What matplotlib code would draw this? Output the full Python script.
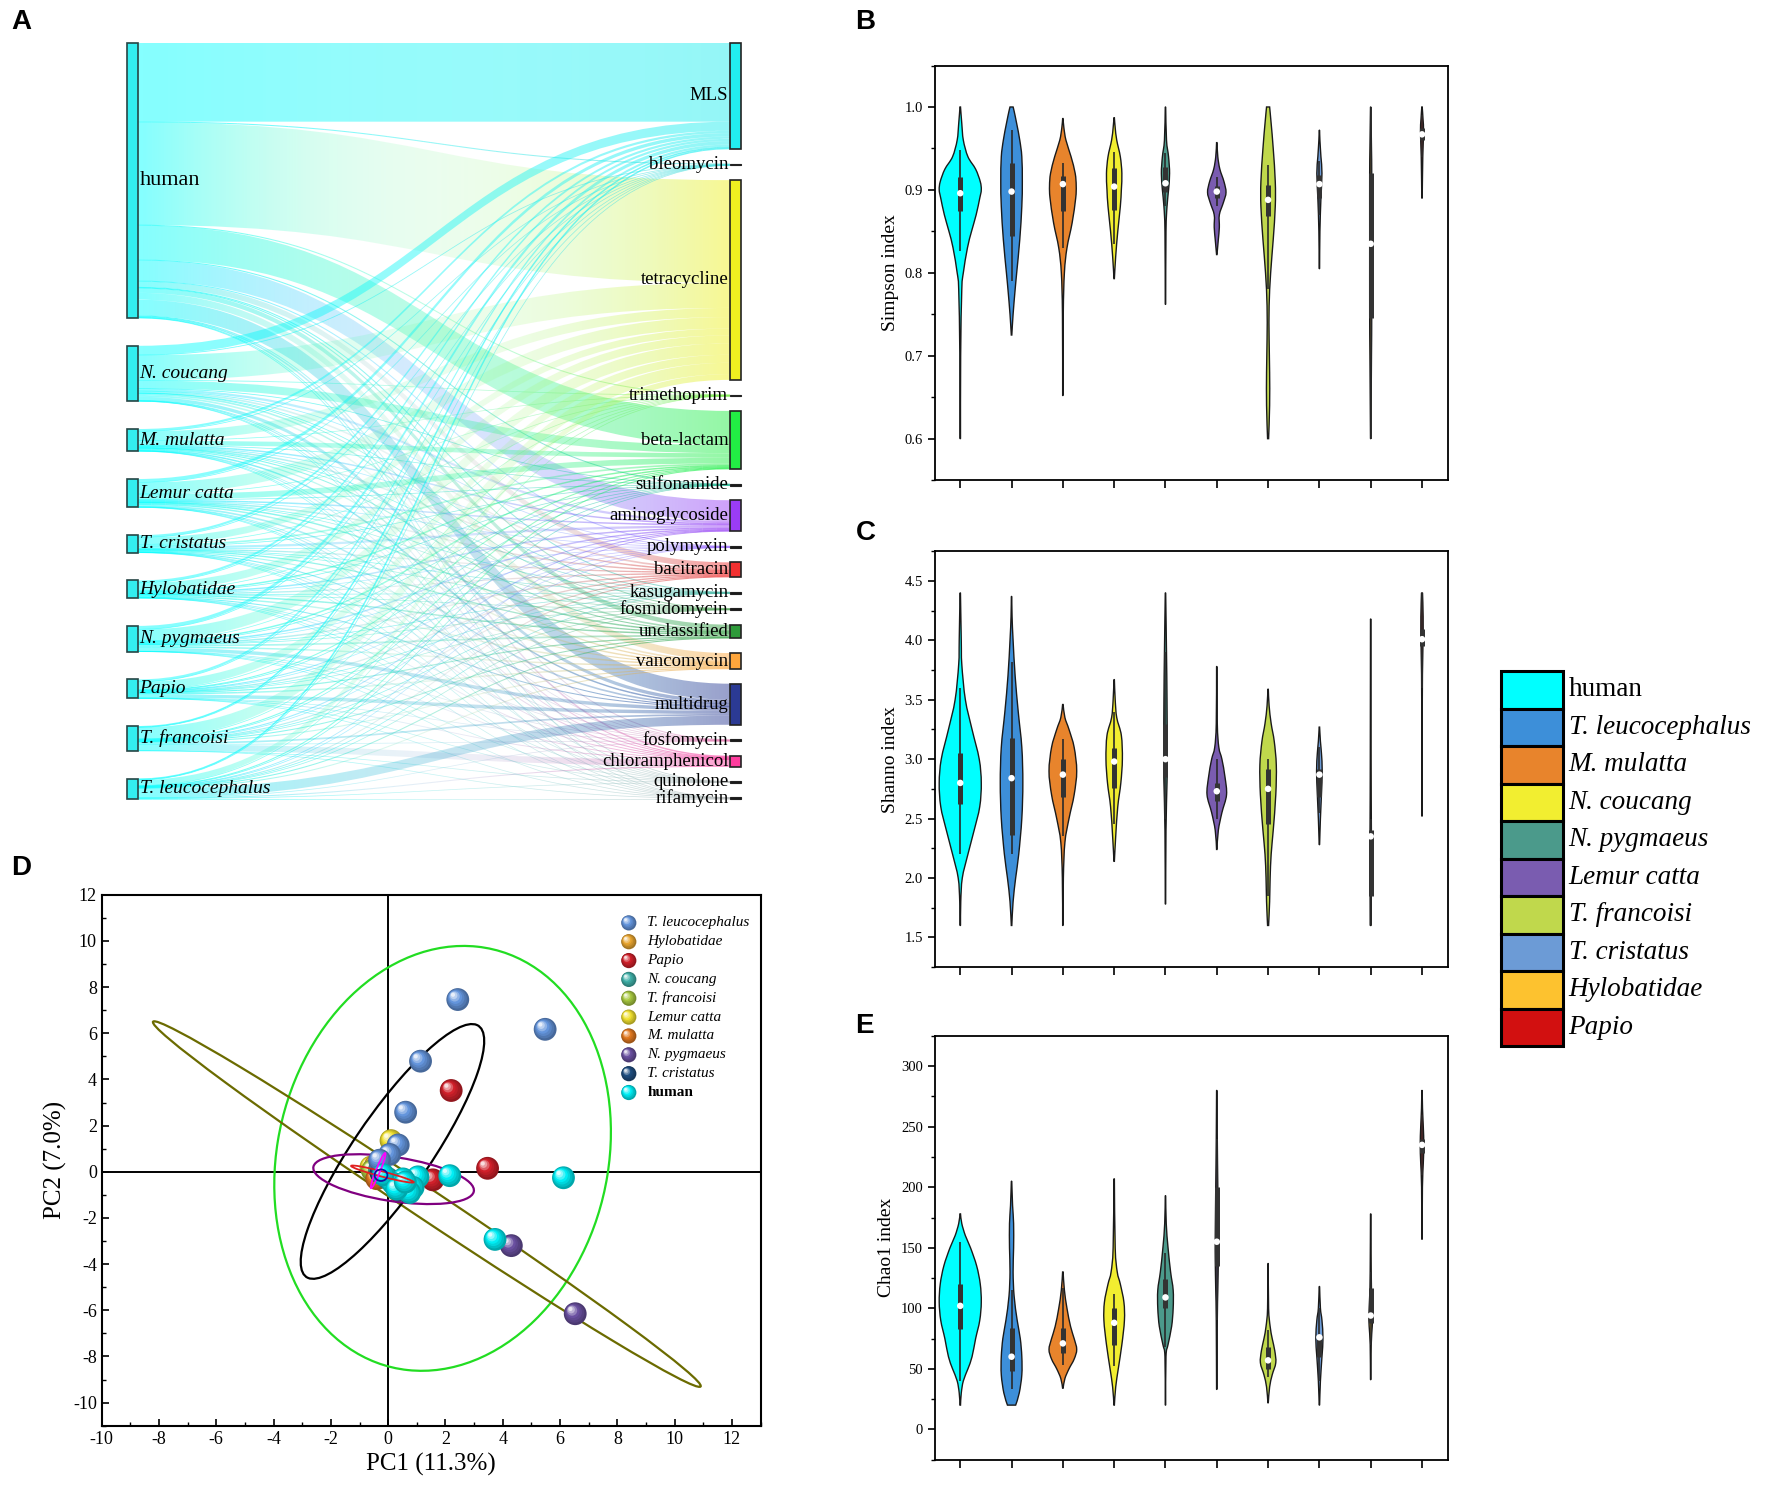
import numpy as np
import matplotlib
matplotlib.use("Agg")
import matplotlib.pyplot as plt
import matplotlib.transforms as mtransforms
from matplotlib.path import Path
from matplotlib.patches import PathPatch, Rectangle, Ellipse
from matplotlib.collections import LineCollection
from matplotlib.colors import to_rgb
from matplotlib.ticker import MultipleLocator

plt.rcParams['font.family'] = ['Liberation Serif', 'DejaVu Serif']
plt.rcParams['axes.unicode_minus'] = False

# ---------------- data: panel A (host -> ARG class) ----------------
hosts = ['human', 'N. coucang', 'M. mulatta', 'Lemur catta', 'T. cristatus',
         'Hylobatidae', 'N. pygmaeus', 'Papio', 'T. francoisi', 'T. leucocephalus']
arg_names = ['MLS', 'bleomycin', 'tetracycline', 'trimethoprim', 'beta-lactam',
             'sulfonamide', 'aminoglycoside', 'polymyxin', 'bacitracin', 'kasugamycin',
             'fosmidomycin', 'unclassified', 'vancomycin', 'multidrug', 'fosfomycin',
             'chloramphenicol', 'quinolone', 'rifamycin']
arg_colors = ['#22EEF0', '#55DDDD', '#F0F020', '#88EE55', '#22EE44', '#33BB99',
              '#9A3CF5', '#AA77FF', '#F23030', '#55BBAA', '#66AA66', '#2E9A3A',
              '#FFA63C', '#2B3A94', '#EE88BB', '#FF3D9E', '#BBBBBB', '#BBBBBB']
host_color = '#33EEF0'

flow_human = [69, 0.5, 90, 0.5, 30, 0.5, 18, 0.5, 5, 0.5, 0.5, 4, 6, 14, 0.5, 1, 0.3, 0.3]
flow_ncoucang = [8, 0.2, 22, 0.2, 7, 0.2, 2, 0.2, 1.5, 0.2, 0.2, 1.5, 1.5, 3, 0.2, 0.5, 0.1, 0.1]
flow_mmulatta = [2, 0.1, 8, 0.1, 4, 0.1, 1, 0.1, 1, 0.1, 0.1, 0.5, 0.8, 1, 0.1, 0.3, 0.1, 0.1]
flow_lemur = [3, 0.1, 10, 0.1, 5, 0.1, 1, 0.1, 1, 0.1, 0.1, 1, 1, 1.5, 0.1, 0.5, 0.1, 0.1]
flow_tcristatus = [2, 0.1, 6, 0.1, 1.5, 0.1, 2, 0.1, 0.8, 0.1, 0.1, 0.8, 0.6, 0.5, 0.1, 0.3, 0.1, 0.1]
flow_hylobatidae = [2, 0.1, 7, 0.1, 1, 0.1, 1, 0.1, 0.8, 0.1, 0.1, 1, 1, 0.5, 0.1, 0.3, 0.1, 0.1]
flow_npygmaeus = [3, 0.1, 10, 0.1, 1, 0.1, 1, 0.1, 1, 0.1, 0.1, 1.5, 1, 3, 0.1, 0.2, 0.1, 0.1]
flow_papio = [2, 0.1, 7, 0.1, 0.5, 0.1, 0.5, 0.1, 0.8, 0.1, 0.1, 0.7, 1, 3, 0.1, 0.3, 0.1, 0.1]
flow_tfrancoisi = [1, 0.1, 10, 0.1, 0.5, 0.1, 0.5, 0.1, 0.6, 0.1, 0.1, 0.5, 0.6, 1.5, 0.1, 5.5, 0.1, 0.1]
flow_tleuco = [1, 0.1, 5, 0.1, 0.5, 0.1, 0.2, 0.1, 0.5, 0.1, 0.1, 0.5, 0.5, 8, 0.1, 0.5, 0.1, 0.1]

# ---------------- data: violins (B, C, E) ----------------
groups = ['human', 'T. leucocephalus', 'M. mulatta', 'N. coucang', 'N. pygmaeus',
          'Lemur catta', 'T. francoisi', 'T. cristatus', 'Hylobatidae', 'Papio']
violin_colors = ['#00FFFF', '#3D8FD9', '#E8842C', '#F2EE30', '#4B9A8B',
                 '#7A5CB0', '#C0D84C', '#6C9BD6', '#FDC22F', '#D21010']

simpson_levels = [
    [0.60, 0.70, 0.78, 0.80, 0.83, 0.85, 0.87, 0.89, 0.90, 0.91, 0.925, 0.94, 0.96, 0.98, 1.00],
    [0.725, 0.75, 0.78, 0.80, 0.84, 0.88, 0.91, 0.94, 0.96, 0.98, 0.995, 1.0],
    [0.652, 0.75, 0.80, 0.83, 0.86, 0.89, 0.905, 0.92, 0.94, 0.96, 0.975, 0.986],
    [0.793, 0.82, 0.85, 0.88, 0.90, 0.92, 0.94, 0.96, 0.975, 0.987],
    [0.762, 0.85, 0.88, 0.90, 0.92, 0.94, 0.96, 1.0],
    [0.822, 0.84, 0.855, 0.87, 0.885, 0.897, 0.91, 0.925, 0.94, 0.957],
    [0.60, 0.64, 0.68, 0.72, 0.76, 0.80, 0.84, 0.88, 0.91, 0.95, 0.98, 1.0],
    [0.805, 0.85, 0.89, 0.92, 0.94, 0.96, 0.972],
    [0.60, 0.70, 0.75, 0.85, 0.92, 0.95, 1.0],
    [0.89, 0.94, 0.97, 0.985, 1.0]]
simpson_widths = [
    [0.005, 0.008, 0.03, 0.06, 0.14, 0.22, 0.31, 0.38, 0.41, 0.39, 0.30, 0.15, 0.06, 0.03, 0.005],
    [0.005, 0.03, 0.07, 0.10, 0.16, 0.20, 0.21, 0.20, 0.16, 0.10, 0.05, 0.03],
    [0.004, 0.008, 0.03, 0.08, 0.18, 0.25, 0.26, 0.24, 0.16, 0.06, 0.02, 0.004],
    [0.004, 0.03, 0.07, 0.12, 0.14, 0.15, 0.12, 0.05, 0.02, 0.004],
    [0.004, 0.01, 0.03, 0.06, 0.08, 0.06, 0.02, 0.004],
    [0.004, 0.03, 0.05, 0.05, 0.13, 0.18, 0.14, 0.06, 0.02, 0.004],
    [0.01, 0.03, 0.03, 0.02, 0.02, 0.05, 0.10, 0.14, 0.14, 0.10, 0.06, 0.03],
    [0.004, 0.01, 0.03, 0.05, 0.03, 0.01, 0.004],
    [0.004, 0.015, 0.02, 0.02, 0.02, 0.015, 0.004],
    [0.004, 0.015, 0.03, 0.02, 0.004]]
simpson_q1 = [0.875, 0.845, 0.875, 0.876, 0.898, 0.89, 0.868, 0.89, 0.745, 0.96]
simpson_med = [0.896, 0.898, 0.907, 0.904, 0.908, 0.898, 0.888, 0.907, 0.835, 0.967]
simpson_q3 = [0.915, 0.933, 0.917, 0.926, 0.928, 0.905, 0.906, 0.918, 0.92, 0.975]
simpson_lo = [0.826, 0.79, 0.83, 0.835, 0.88, 0.88, 0.78, 0.87, 0.60, 0.94]
simpson_hi = [0.948, 0.972, 0.933, 0.946, 0.945, 0.915, 0.93, 0.935, 1.00, 0.99]

shannon_levels = [
    [1.6, 1.8, 2.0, 2.2, 2.4, 2.6, 2.8, 3.0, 3.25, 3.5, 3.8, 4.0, 4.4],
    [1.6, 1.8, 2.0, 2.2, 2.5, 2.8, 3.1, 3.4, 3.7, 4.0, 4.2, 4.37],
    [1.6, 2.0, 2.3, 2.5, 2.7, 2.9, 3.1, 3.25, 3.35, 3.46],
    [2.14, 2.35, 2.6, 2.8, 3.0, 3.2, 3.35, 3.5, 3.67],
    [1.78, 2.4, 2.8, 3.0, 3.5, 3.9, 4.4],
    [2.24, 2.4, 2.55, 2.7, 2.85, 3.0, 3.1, 3.3, 3.78],
    [1.6, 1.8, 2.0, 2.2, 2.4, 2.7, 2.95, 3.15, 3.3, 3.45, 3.59],
    [2.28, 2.5, 2.7, 2.9, 3.05, 3.15, 3.27],
    [1.6, 1.85, 2.2, 2.5, 3.0, 4.18],
    [2.52, 3.5, 3.8, 4.0, 4.2, 4.4]]
shannon_widths = [
    [0.005, 0.01, 0.04, 0.15, 0.27, 0.38, 0.41, 0.37, 0.23, 0.10, 0.03, 0.02, 0.004],
    [0.005, 0.03, 0.08, 0.14, 0.20, 0.22, 0.20, 0.13, 0.07, 0.03, 0.01, 0.004],
    [0.004, 0.01, 0.04, 0.12, 0.22, 0.27, 0.22, 0.12, 0.04, 0.005],
    [0.004, 0.03, 0.07, 0.13, 0.16, 0.14, 0.05, 0.02, 0.004],
    [0.004, 0.01, 0.03, 0.035, 0.03, 0.02, 0.004],
    [0.004, 0.03, 0.10, 0.19, 0.16, 0.10, 0.04, 0.01, 0.004],
    [0.01, 0.03, 0.04, 0.06, 0.10, 0.15, 0.16, 0.12, 0.06, 0.02, 0.004],
    [0.004, 0.02, 0.04, 0.055, 0.04, 0.02, 0.004],
    [0.01, 0.012, 0.015, 0.012, 0.008, 0.004],
    [0.003, 0.006, 0.012, 0.02, 0.022, 0.01]]
shannon_q1 = [2.62, 2.36, 2.68, 2.76, 2.85, 2.65, 2.45, 2.68, 1.85, 3.95]
shannon_med = [2.80, 2.84, 2.87, 2.98, 3.00, 2.73, 2.75, 2.87, 2.35, 4.01]
shannon_q3 = [3.05, 3.18, 3.00, 3.09, 3.30, 2.80, 2.92, 2.92, 2.40, 4.10]
shannon_lo = [2.2, 2.2, 2.35, 2.45, 2.5, 2.5, 1.85, 2.55, 1.6, 3.6]
shannon_hi = [3.6, 3.82, 3.17, 3.4, 3.9, 3.0, 3.0, 3.1, 2.5, 4.4]

chao_levels = [
    [20, 30, 40, 50, 60, 75, 90, 105, 120, 135, 150, 160, 170, 178],
    [20, 30, 45, 60, 75, 90, 110, 130, 150, 170, 185, 205],
    [34, 42, 50, 58, 66, 75, 85, 100, 115, 130],
    [20, 35, 50, 70, 90, 105, 120, 130, 150, 207],
    [20, 60, 70, 85, 100, 115, 130, 150, 170, 193],
    [33, 90, 115, 140, 160, 200, 240, 280],
    [22, 35, 45, 55, 65, 75, 85, 100, 137],
    [20, 40, 60, 75, 90, 100, 118],
    [41, 70, 85, 95, 110, 130, 178],
    [157, 200, 220, 235, 250, 265, 280]]
chao_widths = [
    [0.005, 0.02, 0.06, 0.15, 0.23, 0.30, 0.38, 0.41, 0.39, 0.32, 0.20, 0.10, 0.03, 0.005],
    [0.08, 0.15, 0.20, 0.20, 0.17, 0.11, 0.05, 0.03, 0.04, 0.04, 0.02, 0.004],
    [0.005, 0.04, 0.12, 0.22, 0.27, 0.22, 0.15, 0.08, 0.03, 0.005],
    [0.004, 0.03, 0.08, 0.15, 0.20, 0.19, 0.12, 0.06, 0.02, 0.004],
    [0.004, 0.01, 0.05, 0.12, 0.15, 0.15, 0.10, 0.05, 0.015, 0.004],
    [0.004, 0.01, 0.02, 0.03, 0.03, 0.02, 0.01, 0.004],
    [0.004, 0.03, 0.08, 0.15, 0.13, 0.08, 0.04, 0.01, 0.004],
    [0.004, 0.02, 0.05, 0.07, 0.05, 0.02, 0.004],
    [0.004, 0.01, 0.03, 0.035, 0.02, 0.01, 0.004],
    [0.004, 0.008, 0.025, 0.035, 0.025, 0.01, 0.004]]
chao_q1 = [83, 48, 63, 70, 100, 135, 50, 60, 88, 228]
chao_med = [102, 60, 71, 88, 109, 155, 57, 76, 94, 235]
chao_q3 = [120, 84, 84, 100, 124, 200, 68, 78, 117, 240]
chao_lo = [40, 33, 53, 52, 68, 90, 43, 40, 70, 210]
chao_hi = [155, 115, 117, 112, 146, 240, 82, 100, 130, 260]

# ---------------- data: panel D (PCA) ----------------
pca_groups = ['T. leucocephalus', 'Hylobatidae', 'Papio', 'N. coucang', 'T. francoisi',
              'Lemur catta', 'M. mulatta', 'N. pygmaeus', 'T. cristatus', 'human']
pca_colors = ['#6495DC', '#E8A530', '#D0202A', '#40B0A8', '#A8C840',
              '#F0E030', '#E07820', '#6A50A0', '#1F4E80', '#00EEF5']
pc1_tleuco = [2.43, 5.48, 1.13, 0.61, 0.35, 0.05, -0.3]
pc2_tleuco = [7.46, 6.17, 4.79, 2.58, 1.16, 0.75, 0.5]
pc1_hylo = [-0.45]
pc2_hylo = [0.25]
pc1_papio = [2.2, 3.47, 1.56]
pc2_papio = [3.52, 0.15, -0.35]
pc1_ncou = [-0.3, 0.0]
pc2_ncou = [0.1, -0.3]
pc1_tfra = [-0.55, -0.2]
pc2_tfra = [0.05, -0.2]
pc1_lemur = [0.1, -0.6]
pc2_lemur = [1.35, 0.2]
pc1_mmul = [-0.4]
pc2_mmul = [-0.3]
pc1_npyg = [4.3, 6.53, 0.4]
pc2_npyg = [-3.2, -6.15, -0.8]
pc1_tcri = [-0.25]
pc2_tcri = [-0.05]
pc1_human = [6.12, 3.73, 2.15, 1.04, 0.87, 0.52, 0.17, -0.17, 0.75, 0.3, 0.6]
pc2_human = [-0.26, -2.93, -0.17, -0.22, -0.68, -0.31, -0.5, -0.13, -0.9, -0.75, -0.45]

ell_x = [1.9, 1.35, 0.15, 0.19, -0.2, -0.35, -0.25]
ell_y = [0.58, -1.4, 0.88, -0.32, -0.1, 0.05, -0.15]
ell_w = [11.6, 24.8, 12.44, 5.7, 2.3, 1.6, 0.45]
ell_h = [18.5, 1.2, 2.84, 1.9, 0.22, 0.15, 0.5]
ell_angle = [-7.5, -39.6, 61.7, -11, -18, 72, 0]
ell_colors = ['#22DD22', '#6B6B00', '#000000', '#800080', '#E02020', '#FF00FF', '#1010A0']

# ---------------- layout helpers ----------------
W, H = 1568.0, 1326.0


def rect(x0, y0, x1, y1):
    return [x0 / W, 1 - y1 / H, (x1 - x0) / W, (y1 - y0) / H]


fig = plt.figure(figsize=(17.72, 14.98), dpi=100)

# ================= A: sankey =================
axA = fig.add_axes(rect(100, 30, 670, 715))
flows = np.array([flow_human, flow_ncoucang, flow_mmulatta, flow_lemur, flow_tcristatus,
                  flow_hylobatidae, flow_npygmaeus, flow_papio, flow_tfrancoisi, flow_tleuco])
n_src, n_dst = flows.shape
top, bot = 38.0, 707.0
gap_r = 13.0
scale = (bot - top - gap_r * (n_dst - 1)) / flows.sum()
gap_l = (bot - top - scale * flows.sum()) / (n_src - 1)
src_h = flows.sum(axis=1) * scale
dst_h = flows.sum(axis=0) * scale
src_y = top + np.concatenate([[0], np.cumsum(src_h + gap_l)[:-1]])
dst_y = top + np.concatenate([[0], np.cumsum(dst_h + gap_r)[:-1]])

xa, xb = 122.0, 646.0
xm = 0.5 * (xa + xb)
src_cur = src_y.copy()
dst_cur = dst_y.copy()
tt = np.linspace(0, 1, 64)
c0 = np.array(to_rgb('#00FFFF'))
codes = [Path.MOVETO, Path.CURVE4, Path.CURVE4, Path.CURVE4,
         Path.LINETO, Path.CURVE4, Path.CURVE4, Path.CURVE4, Path.CLOSEPOLY]
for i in range(n_src):
    for j in range(n_dst):
        h = flows[i, j] * scale
        ya, yb = src_cur[i], dst_cur[j]
        src_cur[i] += h
        dst_cur[j] += h
        c1 = np.array(to_rgb(arg_colors[j]))
        diff = min(1.0, np.linalg.norm(c1 - c0) / np.sqrt(2))
        rgb = (1 - tt)[:, None] * c0 + tt[:, None] * c1
        alpha = 0.48 * (1 - 0.75 * diff * np.sin(np.pi * tt))
        if h >= 1.2:
            verts = [(xa, ya), (xm, ya), (xm, yb), (xb, yb), (xb, yb + h),
                     (xm, yb + h), (xm, ya + h), (xa, ya + h), (xa, ya)]
            patch = PathPatch(Path(verts, codes), fc='none', ec='none')
            axA.add_patch(patch)
            img = np.concatenate([rgb, alpha[:, None]], axis=1)[None, :, :]
            im = axA.imshow(img, extent=(xa, xb, max(ya, yb) + h, min(ya, yb)),
                            aspect='auto', interpolation='bilinear', zorder=1)
            im.set_clip_path(patch)
        else:
            y0c, y1c = ya + h / 2, yb + h / 2
            bx = (1 - tt) ** 3 * xa + 3 * (1 - tt) ** 2 * tt * xm + 3 * (1 - tt) * tt ** 2 * xm + tt ** 3 * xb
            by = (1 - tt) ** 3 * y0c + 3 * (1 - tt) ** 2 * tt * y0c + 3 * (1 - tt) * tt ** 2 * y1c + tt ** 3 * y1c
            pts = np.column_stack([bx, by])
            segs = np.stack([pts[:-1], pts[1:]], axis=1)
            cols = np.concatenate([rgb[:-1], np.clip(alpha[:-1] * 1.3, 0, 1)[:, None]], axis=1)
            axA.add_collection(LineCollection(segs, colors=cols, linewidths=0.45 + h * 0.6, zorder=1))

for i in range(n_src):
    axA.add_patch(Rectangle((112, src_y[i]), 10, src_h[i], fc=host_color, ec='#264545', lw=1.2, zorder=3))
    if i == 0:
        axA.text(123.5, src_y[i] + src_h[i] / 2, hosts[i], fontsize=16, ha='left', va='center', zorder=4)
    else:
        axA.text(123.5, src_y[i] + src_h[i] / 2, hosts[i], fontsize=14, style='italic',
                 ha='left', va='center', zorder=4)
for j in range(n_dst):
    hj = dst_h[j]
    fc = arg_colors[j] if hj > 4 else '#1a1a1a'
    axA.add_patch(Rectangle((646, dst_y[j]), 10, max(hj, 1.0), fc=fc, ec='#222222',
                            lw=1.2 if hj > 4 else 0.8, zorder=3))
    axA.text(644.5, dst_y[j] + hj / 2, arg_names[j], fontsize=13.5, ha='right', va='center', zorder=4)

axA.set_xlim(100, 670)
axA.set_ylim(715, 30)
axA.axis('off')


# ================= B, C, E: violins =================
def cr_curve(pts):
    pts = np.asarray(pts, dtype=float)
    n = len(pts)
    verts = [tuple(pts[0])]
    cds = [Path.MOVETO]
    for k in range(n - 1):
        p0 = pts[k - 1] if k > 0 else pts[k]
        p1, p2 = pts[k], pts[k + 1]
        p3 = pts[k + 2] if k + 2 < n else pts[k + 1]
        verts += [tuple(p1 + (p2 - p0) / 6), tuple(p2 - (p3 - p1) / 6), tuple(p2)]
        cds += [Path.CURVE4] * 3
    return verts, cds


def violin_panel(ax, levels, widths, q1, med, q3, lo, hi, ylim, major, minor, ylabel):
    for g in range(len(levels)):
        ys = np.array(levels[g], dtype=float)
        ws = np.array(widths[g], dtype=float)
        v1, k1 = cr_curve(np.column_stack([g + ws, ys]))
        v2, k2 = cr_curve(np.column_stack([g - ws[::-1], ys[::-1]]))
        k2[0] = Path.LINETO
        path = Path(v1 + v2 + [v1[0]], k1 + k2 + [Path.CLOSEPOLY])
        ax.add_patch(PathPatch(path, fc=violin_colors[g], ec='#1a1a1a', lw=1.0, zorder=2))
        ax.vlines(g, lo[g], hi[g], color='#2a2a2a', lw=1.2, zorder=3)
        ax.vlines(g, q1[g], q3[g], color='#333333', lw=3.6, zorder=3)
        ax.scatter([g], [med[g]], s=22, color='white', edgecolors='none', zorder=4)
    ax.set_xlim(-0.5, len(levels) - 0.5)
    ax.set_ylim(*ylim)
    ax.set_xticks(range(len(levels)))
    ax.set_xticklabels([])
    ax.yaxis.set_major_locator(MultipleLocator(major))
    ax.yaxis.set_minor_locator(MultipleLocator(minor))
    ax.tick_params(axis='both', which='both', direction='out', top=False, right=False)
    ax.tick_params(axis='x', length=6, width=1.2)
    ax.tick_params(axis='y', which='major', length=5, width=1.2, labelsize=10.5)
    ax.tick_params(axis='y', which='minor', length=3, width=1.0)
    for sp in ax.spines.values():
        sp.set_linewidth(1.3)
    ax.set_ylabel(ylabel, fontsize=14)


axB = fig.add_axes(rect(827, 58, 1281, 425))
violin_panel(axB, simpson_levels, simpson_widths, simpson_q1, simpson_med, simpson_q3,
             simpson_lo, simpson_hi, (0.55, 1.05), 0.1, 0.05, 'Simpson index')
axC = fig.add_axes(rect(827, 488, 1281, 856))
violin_panel(axC, shannon_levels, shannon_widths, shannon_q1, shannon_med, shannon_q3,
             shannon_lo, shannon_hi, (1.25, 4.75), 0.5, 0.25, 'Shanno index')
axE = fig.add_axes(rect(827, 917, 1281, 1292))
violin_panel(axE, chao_levels, chao_widths, chao_q1, chao_med, chao_q3,
             chao_lo, chao_hi, (-25, 325), 50, 25, 'Chao1 index')

# violin legend
axL = fig.add_axes(rect(1320, 590, 1568, 930))
step = (926 - 594) / len(groups)
for g, name in enumerate(groups):
    y0 = 594 + g * step
    axL.add_patch(Rectangle((1328, y0), 55, step, fc=violin_colors[g], ec='black', lw=2.2))
    if name == 'human':
        axL.text(1388, y0 + step / 2, name, fontsize=19.5, va='center', ha='left')
    else:
        axL.text(1388, y0 + step / 2, name, fontsize=19.5, style='italic', va='center', ha='left')
axL.set_xlim(1320, 1568)
axL.set_ylim(930, 590)
axL.axis('off')

# ================= D: PCA =================
axD = fig.add_axes(rect(90, 792, 673, 1262))
axD.set_xlim(-10, 13)
axD.set_ylim(-11, 12)
axD.axhline(0, color='black', lw=1.4, zorder=2)
axD.axvline(0, color='black', lw=1.4, zorder=2)
for k in range(len(ell_x)):
    axD.add_patch(Ellipse((ell_x[k], ell_y[k]), ell_w[k], ell_h[k], angle=ell_angle[k],
                          fill=False, ec=ell_colors[k], lw=1.6 if k < 4 else 1.3,
                          zorder=2.5 if k < 4 else 8))


def ball(ax, x, y, color, size, z, base_trans):
    c = np.array(to_rgb(color))
    r = np.sqrt(size) / 2.0
    n = 7
    for k in range(n):
        f = k / (n - 1)
        d = 1 - 0.82 * f
        if f < 0.5:
            col = c * (0.70 + 0.6 * f)
        else:
            col = c + (1 - c) * (f - 0.5) * 1.7
        off = (1 - d) * r * 0.72
        tr = base_trans + mtransforms.ScaledTranslation(-off * 0.707 / 72, off * 0.707 / 72,
                                                        fig.dpi_scale_trans)
        ax.scatter([x], [y], s=size * d * d, color=np.clip(col, 0, 1), edgecolors='none',
                   transform=tr, zorder=z + k * 0.001)


pca_x = [pc1_tleuco, pc1_hylo, pc1_papio, pc1_ncou, pc1_tfra, pc1_lemur, pc1_mmul, pc1_npyg, pc1_tcri, pc1_human]
pca_y = [pc2_tleuco, pc2_hylo, pc2_papio, pc2_ncou, pc2_tfra, pc2_lemur, pc2_mmul, pc2_npyg, pc2_tcri, pc2_human]
draw_order = [5, 1, 4, 6, 3, 8, 7, 2, 0, 9]
z = 3.0
for g in draw_order:
    for x, y in zip(pca_x[g], pca_y[g]):
        ball(axD, x, y, pca_colors[g], 270, z, axD.transData)
        z += 0.01

for g, name in enumerate(pca_groups):
    ly = 0.947 - g * 0.0355
    ball(axD, 0.80, ly, pca_colors[g], 120, 9, axD.transAxes)
    if name == 'human':
        axD.text(0.828, ly, name, transform=axD.transAxes, fontsize=11, weight='bold',
                 va='center', ha='left', zorder=10)
    else:
        axD.text(0.828, ly, name, transform=axD.transAxes, fontsize=11, style='italic',
                 va='center', ha='left', zorder=10)

axD.xaxis.set_major_locator(MultipleLocator(2))
axD.xaxis.set_minor_locator(MultipleLocator(1))
axD.yaxis.set_major_locator(MultipleLocator(2))
axD.yaxis.set_minor_locator(MultipleLocator(1))
axD.tick_params(axis='both', which='both', direction='in', top=False, right=False)
axD.tick_params(which='major', length=5, width=1.2, labelsize=13)
axD.tick_params(which='minor', length=3, width=1.0)
for sp in axD.spines.values():
    sp.set_linewidth(1.5)
axD.set_xlabel('PC1 (11.3%)', fontsize=18)
axD.set_ylabel('PC2 (7.0%)', fontsize=18)

# panel letters
for letter, px, py in [('A', 10, 8), ('B', 757, 8), ('C', 757, 460), ('D', 10, 757), ('E', 757, 897)]:
    fig.text(px / W, 1 - py / H, letter, fontsize=20, weight='bold',
             family=['Liberation Sans', 'DejaVu Sans'], ha='left', va='top')

fig.savefig('out.png', dpi=100)
